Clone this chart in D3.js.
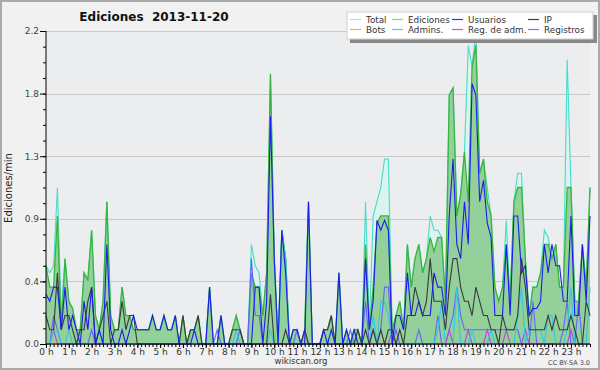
<!DOCTYPE html>
<html><head><meta charset="utf-8">
<script src="https://cdn.jsdelivr.net/npm/d3@7"></script>
<style>
html,body{margin:0;padding:0;background:#fff;}
svg{display:block;}
text{font-family:"DejaVu Sans",sans-serif;}
</style></head>
<body>
<svg id="c" width="600" height="370"></svg>
<script>
// ---------- DATA (edits per minute, 10-minute bins, 0:00 .. 23:50) ----------
const hourLabels = ["0 h","1 h","2 h","3 h","4 h","5 h","6 h","7 h","8 h","9 h","10 h","11 h","12 h","13 h","14 h","15 h","16 h","17 h","18 h","19 h","20 h","21 h","22 h","23 h"];
const yTickValues = [0, 0.44, 0.88, 1.32, 1.76, 2.2];
const yTickLabels = ["0.0","0.4","0.9","1.3","1.8","2.2"];

const total = [
0.55,0.50,0.55,1.10,0.20,0.60, 0.30,0.25,0.10,0.10,0.50,0.45, 0.80,0.20,0.10,0.30,1.00,0.20, 0.10,0.10,0.40,0.20,0.20,0.10,
0.10,0.10,0.10,0.10,0.20,0.10, 0.10,0.20,0.10,0.10,0.20,0.00, 0.20,0.00,0.10,0.10,0.20,0.00, 0.00,0.40,0.00,0.00,0.20,0.00,
0.00,0.10,0.20,0.10,0.00,0.00, 0.70,0.55,0.50,0.20,0.50,1.90, 0.60,0.00,0.80,0.60,0.00,0.10, 0.10,0.00,0.10,1.00,0.00,0.00,
0.00,0.10,0.10,0.20,0.00,0.50, 0.00,0.10,0.00,0.10,0.10,0.00, 1.00,0.10,0.90,1.00,1.10,1.30, 1.30,0.10,0.20,0.30,0.10,0.70,
0.40,0.60,0.70,0.50,0.60,0.90, 0.80,0.80,0.75,0.30,1.75,1.80, 0.90,1.05,1.35,2.10,1.95,2.20, 1.20,1.30,1.10,0.90,0.40,0.30,
0.40,0.87,0.30,1.00,1.20,1.20, 0.60,0.20,0.40,0.40,0.50,0.80, 0.75,0.60,0.70,0.40,0.40,2.00, 1.10,0.30,0.30,0.70,0.40,1.10];

const ediciones = [
0.55,0.40,0.40,0.90,0.10,0.60, 0.30,0.25,0.10,0.10,0.50,0.45, 0.80,0.20,0.10,0.30,1.00,0.20, 0.10,0.10,0.40,0.20,0.20,0.10,
0.10,0.10,0.10,0.10,0.20,0.10, 0.10,0.20,0.10,0.10,0.20,0.00, 0.20,0.00,0.10,0.10,0.20,0.00, 0.00,0.40,0.00,0.00,0.20,0.00,
0.00,0.10,0.20,0.10,0.00,0.00, 0.50,0.40,0.40,0.20,0.50,1.90, 0.60,0.00,0.80,0.60,0.00,0.10, 0.10,0.00,0.10,1.00,0.00,0.00,
0.00,0.10,0.10,0.20,0.00,0.50, 0.00,0.10,0.00,0.10,0.10,0.00, 0.70,0.10,0.40,0.85,0.90,0.90, 0.90,0.10,0.20,0.30,0.10,0.70,
0.40,0.60,0.70,0.50,0.60,0.75, 0.65,0.75,0.75,0.30,1.75,1.80, 0.90,1.05,1.35,1.00,1.95,2.10, 1.20,1.30,1.00,0.90,0.40,0.30,
0.40,0.70,0.30,1.00,1.10,1.10, 0.60,0.20,0.40,0.40,0.50,0.70, 0.70,0.60,0.70,0.40,0.40,1.10, 1.10,0.30,0.30,0.70,0.40,1.10];

const usuarios = [
0.35,0.30,0.40,0.40,0.10,0.40, 0.10,0.20,0.10,0.00,0.30,0.10, 0.40,0.00,0.10,0.00,0.70,0.10, 0.00,0.00,0.10,0.00,0.10,0.20,
0.10,0.10,0.10,0.10,0.20,0.10, 0.10,0.20,0.10,0.10,0.20,0.00, 0.00,0.00,0.00,0.10,0.00,0.00, 0.00,0.40,0.00,0.00,0.20,0.00,
0.00,0.00,0.00,0.00,0.00,0.00, 0.00,0.40,0.40,0.00,0.30,1.60, 0.60,0.00,0.80,0.50,0.00,0.10, 0.10,0.00,0.00,1.00,0.00,0.00,
0.00,0.10,0.00,0.10,0.00,0.50, 0.00,0.10,0.00,0.10,0.00,0.00, 0.60,0.10,0.30,0.87,0.80,0.87, 0.80,0.00,0.20,0.20,0.10,0.50,
0.20,0.20,0.30,0.20,0.20,0.20, 0.50,0.40,0.40,0.20,0.90,1.30, 0.70,0.60,1.00,0.70,1.83,1.75, 1.00,1.15,0.85,0.75,0.20,0.20,
0.20,0.70,0.20,0.90,0.90,0.50, 0.55,0.20,0.25,0.25,0.30,0.70, 0.50,0.70,0.55,0.55,0.30,0.30, 0.90,0.20,0.20,0.70,0.30,0.90];

const ip = [
0.20,0.10,0.10,0.50,0.10,0.20, 0.20,0.10,0.00,0.10,0.10,0.30, 0.40,0.00,0.10,0.20,0.30,0.00, 0.10,0.10,0.30,0.10,0.20,0.20,
0.00,0.00,0.00,0.00,0.00,0.00, 0.00,0.00,0.00,0.00,0.00,0.00, 0.20,0.00,0.10,0.10,0.20,0.00, 0.00,0.00,0.00,0.00,0.00,0.00,
0.00,0.10,0.10,0.10,0.00,0.00, 0.00,0.00,0.00,0.00,0.00,0.35, 0.00,0.00,0.00,0.10,0.00,0.00, 0.00,0.00,0.10,0.00,0.00,0.00,
0.00,0.10,0.10,0.20,0.00,0.00, 0.00,0.00,0.00,0.00,0.10,0.00, 0.10,0.00,0.10,0.00,0.10,0.00, 0.10,0.10,0.00,0.10,0.00,0.20,
0.20,0.40,0.30,0.20,0.30,0.60, 0.30,0.30,0.30,0.10,0.40,0.60, 0.60,0.40,0.30,0.30,0.20,0.40, 0.30,0.20,0.20,0.10,0.10,0.00,
0.20,0.10,0.10,0.10,0.20,0.60, 0.40,0.10,0.10,0.10,0.10,0.10, 0.20,0.10,0.20,0.10,0.10,0.10, 0.20,0.10,0.00,0.00,0.30,0.20];

const bots = [
0,0,0,0,0,0, 0,0,0,0,0,0, 0,0,0,0,0,0, 0,0,0,0,0,0,
0,0,0,0,0,0, 0,0,0,0,0,0, 0,0,0,0,0,0, 0,0,0,0,0,0,
0,0,0,0,0,0, 0,0,0,0,0,0, 0,0,0,0,0,0, 0,0,0,0,0,0,
0,0,0,0,0,0, 0,0,0,0,0,0, 0,0,0,0,0,0, 0,0,0,0,0,0,
0,0,0,0,0,0, 0,0,0,0,0,0, 0,0,0,0,0,0, 0,0,0,0,0,0,
0,0,0,0,0,0, 0,0,0,0,0,0, 0,0,0,0,0,0, 0,0,0,0,0,0];

const admins = [
0.00,0.00,0.10,0.10,0.00,0.00, 0.10,0.00,0.00,0.00,0.00,0.00, 0.00,0.00,0.10,0.00,0.00,0.00, 0.00,0.00,0.00,0.00,0.00,0.00,
0.00,0.00,0.00,0.00,0.00,0.00, 0.00,0.00,0.00,0.00,0.00,0.00, 0.00,0.00,0.00,0.00,0.00,0.00, 0.00,0.00,0.00,0.00,0.00,0.00,
0.00,0.00,0.10,0.00,0.00,0.00, 0.00,0.00,0.00,0.00,0.00,0.10, 0.00,0.00,0.80,0.60,0.00,0.00, 0.00,0.00,0.00,0.00,0.00,0.00,
0.00,0.00,0.00,0.00,0.00,0.00, 0.00,0.00,0.00,0.00,0.00,0.00, 0.00,0.00,0.20,0.00,0.30,0.30, 0.20,0.00,0.00,0.00,0.00,0.00,
0.00,0.00,0.00,0.00,0.00,0.00, 0.00,0.10,0.30,0.00,0.00,0.00, 0.40,0.00,0.00,0.00,0.10,0.00, 0.00,0.00,0.00,0.10,0.00,0.00,
0.00,0.00,0.00,0.00,0.20,0.40, 0.00,0.10,0.10,0.10,0.10,0.00, 0.20,0.20,0.00,0.00,0.00,0.10, 0.40,0.00,0.00,0.00,0.00,0.40];

const regAdm = [
0.00,0.00,0.10,0.00,0.00,0.00, 0.00,0.00,0.00,0.00,0.00,0.00, 0.00,0.00,0.00,0.00,0.00,0.00, 0.00,0.00,0.00,0.00,0.00,0.00,
0.00,0.00,0.00,0.00,0.00,0.00, 0.00,0.00,0.00,0.00,0.00,0.00, 0.00,0.00,0.00,0.00,0.00,0.00, 0.00,0.00,0.00,0.00,0.00,0.00,
0.00,0.00,0.00,0.00,0.00,0.00, 0.00,0.00,0.00,0.00,0.00,0.00, 0.00,0.00,0.00,0.00,0.00,0.00, 0.00,0.00,0.00,0.00,0.00,0.00,
0.00,0.00,0.00,0.00,0.00,0.00, 0.00,0.00,0.00,0.00,0.00,0.00, 0.00,0.00,0.00,0.00,0.00,0.00, 0.00,0.10,0.00,0.00,0.00,0.00,
0.00,0.00,0.00,0.00,0.00,0.00, 0.00,0.00,0.00,0.00,0.10,0.00, 0.00,0.00,0.00,0.10,0.00,0.00, 0.00,0.00,0.10,0.00,0.00,0.00,
0.00,0.10,0.00,0.00,0.00,0.00, 0.10,0.00,0.00,0.00,0.00,0.00, 0.00,0.00,0.00,0.00,0.00,0.00, 0.10,0.00,0.00,0.00,0.00,0.00];

const registros = [
0.00,0.00,0.20,0.10,0.00,0.00, 0.00,0.00,0.00,0.00,0.00,0.00, 0.10,0.00,0.00,0.00,0.00,0.00, 0.00,0.00,0.00,0.00,0.00,0.00,
0.00,0.00,0.00,0.00,0.00,0.00, 0.00,0.00,0.00,0.00,0.00,0.00, 0.00,0.00,0.00,0.00,0.00,0.00, 0.00,0.00,0.00,0.10,0.00,0.00,
0.00,0.00,0.00,0.10,0.00,0.00, 0.60,0.20,0.20,0.00,0.00,0.00, 0.00,0.00,0.00,0.00,0.00,0.00, 0.10,0.00,0.10,0.00,0.00,0.00,
0.00,0.00,0.00,0.00,0.00,0.00, 0.00,0.00,0.10,0.00,0.00,0.00, 0.30,0.00,0.10,0.00,0.10,0.40, 0.40,0.00,0.10,0.00,0.00,0.00,
0.00,0.00,0.10,0.00,0.00,0.00, 0.00,0.20,0.00,0.00,0.10,0.20, 0.40,0.20,0.10,0.10,0.10,0.10, 0.10,0.10,0.10,0.10,0.10,0.10,
0.10,0.10,0.10,0.10,0.10,0.00, 0.00,0.00,0.30,0.00,0.00,0.00, 0.00,0.00,0.00,0.00,0.10,0.30, 0.00,0.00,0.30,0.00,0.00,0.00];

const seriesNames = ["Total","Ediciones","Usuarios","IP","Bots","Admins.","Reg. de adm.","Registros"];
const seriesColors = ["#48dccb","#3cb43c","#1c1cf0","#3a3a3a","#f0a040","#30c8e8","#c040e0","#6464ff"];
const legendColors = ["#a8e8e4","#8cd08c","#3434e8","#404040","#f4a850","#50d0e8","#cc55e0","#7a7aff"];

// ---------- DRAW ----------
const svg = d3.select("#c");
const X0 = 46, X1 = 590, Y0 = 31, Y1 = 344;
const x = d3.scaleLinear().domain([0, 143]).range([X0, X1]);
const y = d3.scaleLinear().domain([0, 2.2]).range([Y1, Y0]);

// backgrounds
svg.append("rect").attr("x",0).attr("y",0).attr("width",600).attr("height",370).attr("fill","#f1f1f1");
svg.append("rect").attr("x",1).attr("y",1).attr("width",598).attr("height",368).attr("fill","none").attr("stroke","#aaaaaa").attr("stroke-width",2);
svg.append("rect").attr("x",X0).attr("y",Y0).attr("width",X1-X0).attr("height",Y1-Y0).attr("fill","#ecedef");

// grid
svg.append("g").selectAll("line").data(yTickValues.slice(1)).join("line")
  .attr("x1",X0).attr("x2",X1).attr("y1",d=>Math.round(y(d))+0.5).attr("y2",d=>Math.round(y(d))+0.5)
  .attr("stroke","#c8c8c8").attr("stroke-width",1);

const idx = d3.range(total.length);
const line = arr => d3.line().x(i=>x(i)).y(i=>y(arr[i]))(idx);
const area = arr => d3.area().x(i=>x(i)).y0(y(0)).y1(i=>y(arr[i]))(idx);

const plot = svg.append("g");
plot.append("path").attr("d",area(total)).attr("fill","#d8f4ee").attr("opacity",0.9);
plot.append("path").attr("d",area(ediciones)).attr("fill","#7cc47c").attr("opacity",0.75);
plot.append("path").attr("d",line(total)).attr("fill","none").attr("stroke",seriesColors[0]).attr("stroke-width",1.1);
plot.append("path").attr("d",line(ediciones)).attr("fill","none").attr("stroke",seriesColors[1]).attr("stroke-width",1.3);
const others = [[bots,4],[registros,7],[regAdm,6],[admins,5],[ip,3],[usuarios,2]];
others.forEach(([arr,k])=>{
  plot.append("path").attr("d",line(arr)).attr("fill","none").attr("stroke",seriesColors[k]).attr("stroke-width",1.1);
});

// y axis
const yMinor = d3.range(0, 21).map(k => k*0.11);
svg.append("g").attr("transform",`translate(${X0},0)`)
  .call(d3.axisLeft(y).tickValues(yMinor).tickSize(3).tickFormat(""))
  .call(g=>g.select(".domain").remove())
  .call(g=>g.selectAll("line").attr("stroke","#000"));
const yAx = svg.append("g").attr("transform",`translate(${X0},0)`)
  .call(d3.axisLeft(y).tickValues(yTickValues).tickSize(6).tickPadding(1)
    .tickFormat((d,i)=>yTickLabels[i]));
yAx.select(".domain").attr("d",`M0,${Y0}V${Y1}`).attr("stroke","#000");
yAx.selectAll("line").attr("stroke","#000");
yAx.selectAll("text").attr("font-size","9px").attr("fill","#444").attr("font-family","DejaVu Sans");

// x axis
const xMinor = d3.range(0, total.length);
svg.append("g").attr("transform",`translate(0,${Y1})`)
  .call(d3.axisBottom(x).tickValues(xMinor).tickSize(3).tickFormat(""))
  .call(g=>g.select(".domain").remove())
  .call(g=>g.selectAll("line").attr("stroke","#000"));
const xAx = svg.append("g").attr("transform",`translate(0,${Y1})`)
  .call(d3.axisBottom(x).tickValues(d3.range(0,24).map(h=>h*6)).tickSize(4).tickPadding(1)
    .tickFormat((d,i)=>hourLabels[i]));
xAx.select(".domain").attr("d",`M${X0},0H${X1}`).attr("stroke","#000");
xAx.selectAll("line").attr("stroke","#000");
xAx.selectAll("text").attr("font-size","9px").attr("fill","#333").attr("font-family","DejaVu Sans");

// titles
svg.append("text").attr("x",154).attr("y",21).attr("text-anchor","middle")
  .attr("font-size","12px").attr("font-weight","bold").attr("fill","#111")
  .style("white-space","pre")
  .text("Ediciones  2013-11-20");
svg.append("text").attr("transform","translate(12,188) rotate(-90)").attr("text-anchor","middle")
  .attr("font-size","10px").attr("font-family","DejaVu Sans Mono").attr("fill","#222")
  .text("Ediciones/min");
svg.append("text").attr("x",301).attr("y",364).attr("text-anchor","middle")
  .attr("font-size","8.5px").attr("fill","#333").text("wikiscan.org");
svg.append("text").attr("x",590).attr("y",365).attr("text-anchor","end")
  .attr("font-size","6.5px").attr("fill","#444").text("CC BY-SA 3.0");

// legend
const lg = svg.append("g");
lg.append("rect").attr("x",350).attr("y",15).attr("width",247).attr("height",28).attr("fill","#888");
lg.append("rect").attr("x",347).attr("y",12).attr("width",246).attr("height",27).attr("fill","#fff").attr("stroke","#cfcfcf");
const colX = [350, 392, 452, 528];
const rowY = [19, 29];
seriesNames.forEach((n,i)=>{
  const c = i % 4, r = Math.floor(i/4);
  const gx = colX[c], gy = rowY[r];
  lg.append("line").attr("x1",gx).attr("x2",gx+11).attr("y1",gy+0.5).attr("y2",gy+0.5)
    .attr("stroke",legendColors[i]).attr("stroke-width",1.2);
  lg.append("text").attr("x",gx+16).attr("y",gy+3.5).attr("font-size","8.8px").attr("fill","#333").text(n);
});
</script>
</body></html>
